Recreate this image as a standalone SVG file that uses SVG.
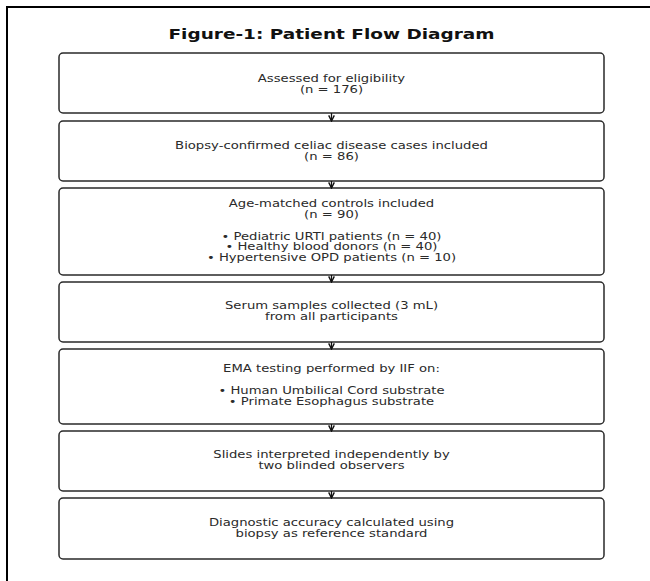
<svg xmlns="http://www.w3.org/2000/svg" width="650" height="581" viewBox="0 0 650 581">
<defs>
<style>
.box{fill:#ffffff;stroke:#2a2a2a;stroke-width:1.5}
.t{font-family:"DejaVu Sans",sans-serif;font-size:10px;fill:#2a2a2a;text-anchor:middle}
.title{font-family:"DejaVu Sans",sans-serif;font-size:14px;font-weight:bold;fill:#111;text-anchor:middle}
.conn{stroke:#111;stroke-width:1.3;fill:none}
</style>
<marker id="ah" viewBox="0 0 10 10" refX="9" refY="5" markerWidth="7" markerHeight="7" orient="auto" markerUnits="userSpaceOnUse">
<path d="M1,1 L9,5 L1,9" fill="none" stroke="#111" stroke-width="2"/>
</marker>
</defs>
<rect width="650" height="581" fill="#ffffff"/>
<path d="M7,581 V7 H650" fill="none" stroke="#000" stroke-width="2"/>
<text class="title" transform="translate(331.5,39) scale(1.32,1)" x="0" y="0">Figure-1: Patient Flow Diagram</text>

<g id="n1">
<rect class="box" x="59" y="53" width="545" height="60" rx="4"/>
<text class="t" transform="translate(331.5,0) scale(1.32,1)"><tspan x="0" y="82">Assessed for eligibility</tspan><tspan x="0" y="93">(n = 176)</tspan></text>
</g>
<g id="n2">
<rect class="box" x="59" y="121" width="545" height="60" rx="4"/>
<text class="t" transform="translate(331.5,0) scale(1.32,1)"><tspan x="0" y="149.5">Biopsy-confirmed celiac disease cases included</tspan><tspan x="0" y="160.5">(n = 86)</tspan></text>
</g>
<g id="n3">
<rect class="box" x="59" y="188" width="545" height="87" rx="4"/>
<text class="t" transform="translate(331.5,0) scale(1.32,1)"><tspan x="0" y="207">Age-matched controls included</tspan><tspan x="0" y="218.5">(n = 90)</tspan><tspan x="0" y="240">• Pediatric URTI patients (n = 40)</tspan><tspan x="0" y="250.5">• Healthy blood donors (n = 40)</tspan><tspan x="0" y="261">• Hypertensive OPD patients (n = 10)</tspan></text>
</g>
<g id="n4">
<rect class="box" x="59" y="282" width="545" height="60" rx="4"/>
<text class="t" transform="translate(331.5,0) scale(1.32,1)"><tspan x="0" y="309.5">Serum samples collected (3 mL)</tspan><tspan x="0" y="320.5">from all participants</tspan></text>
</g>
<g id="n5">
<rect class="box" x="59" y="349" width="545" height="75" rx="4"/>
<text class="t" transform="translate(331.5,0) scale(1.32,1)"><tspan x="0" y="372.5">EMA testing performed by IIF on:</tspan><tspan x="0" y="394">• Human Umbilical Cord substrate</tspan><tspan x="0" y="405.5">• Primate Esophagus substrate</tspan></text>
</g>
<g id="n6">
<rect class="box" x="59" y="431" width="545" height="60" rx="4"/>
<text class="t" transform="translate(331.5,0) scale(1.32,1)"><tspan x="0" y="458.5">Slides interpreted independently by</tspan><tspan x="0" y="469.5">two blinded observers</tspan></text>
</g>
<g id="n7">
<rect class="box" x="59" y="498" width="545" height="61" rx="4"/>
<text class="t" transform="translate(331.5,0) scale(1.32,1)"><tspan x="0" y="526">Diagnostic accuracy calculated using</tspan><tspan x="0" y="537">biopsy as reference standard</tspan></text>
</g>

<g id="connectors">
<line class="conn" x1="331.5" y1="113" x2="331.5" y2="121" marker-end="url(#ah)"/>
<line class="conn" x1="331.5" y1="181" x2="331.5" y2="188" marker-end="url(#ah)"/>
<line class="conn" x1="331.5" y1="275" x2="331.5" y2="282" marker-end="url(#ah)"/>
<line class="conn" x1="331.5" y1="342" x2="331.5" y2="349" marker-end="url(#ah)"/>
<line class="conn" x1="331.5" y1="424" x2="331.5" y2="431" marker-end="url(#ah)"/>
<line class="conn" x1="331.5" y1="491" x2="331.5" y2="498" marker-end="url(#ah)"/>
</g>
</svg>
